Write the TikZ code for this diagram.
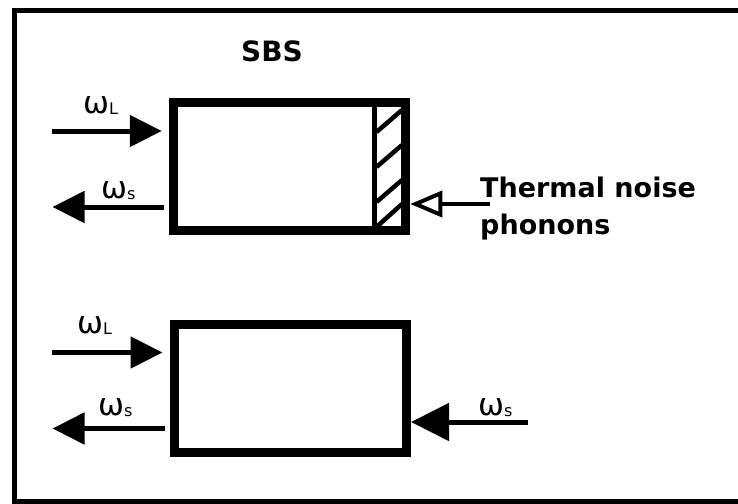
\documentclass[tikz,border=0pt]{standalone}
\usepackage{fontspec}
\setmainfont{DejaVu Sans}
\usetikzlibrary{arrows.meta, calc}
\def\wall{9pt}
\def\shaft{5pt}
\newcommand\freq[1]{{\fontsize{31}{31}\selectfont ω\raisebox{-1pt}{\fontsize{16}{16}\selectfont #1}}}

\begin{document}
\begin{tikzpicture}[x=1pt, y=-1pt,
    cell/.style={draw, line width=\wall, inner sep=0pt, minimum width=232pt, minimum height=127.5pt},
    beam/.style={line width=\shaft, -{Triangle[length=32pt, width=31pt]}},
    wideb/.style={line width=\shaft, -{Triangle[length=38pt, width=37pt]}},
    noise/.style={line width=4pt, -{Triangle[open, fill=white, length=32pt, width=26pt]}},
    lbl/.style={anchor=base west, inner sep=0pt},
    head/.style={lbl, font=\fontsize{27}{28}\selectfont\bfseries}]
    \useasboundingbox (0,0) rectangle (738,503);
    \draw [line width=5pt] (745,11) -| (14,501.5) -- (745,501.5);

    \node [cell] (sbs) at (289.75,166.5) {};
    \node [cell] (anti) at (290.5,388.3) {};
    \node [head, font=\fontsize{28}{28}\selectfont\bfseries] (title) at (241,62) {SBS};

    \draw [line width=\shaft] ([xshift=84.25pt]sbs.north) -- ([xshift=84.25pt]sbs.south);
    \foreach \ya/\yb in {132/110, 167/145, 202/180, 227/204}
        \draw [line width=4.5pt] (376.5,\ya) -- (402,\yb);

    \coordinate (inL1) at (52,131);
    \coordinate (outS1) at (52.5,207);
    \coordinate (therm) at (490,204);
    \coordinate (inL2) at (52,352.5);
    \coordinate (outS2) at (52.5,428.5);
    \coordinate (inS2) at (528,422);

    \draw [beam, shorten >=7.5pt] (inL1) -- (inL1 -| sbs.west);
    \draw [beam, shorten <=5.5pt] (outS1 -| sbs.west) -- (outS1);
    \draw [noise] (therm) -- (therm -| sbs.east);
    \draw [beam, shorten >=7.5pt] (inL2) -- (inL2 -| anti.west);
    \draw [beam, shorten <=5.5pt] (outS2 -| anti.west) -- (outS2);
    \draw [wideb] (inS2) -- (inS2 -| anti.east);

    \node [lbl] (wl1) at (83,113) {\freq{L}};
    \node [lbl] (ws1) at (101,198) {\freq{s}};
    \node [lbl] (wl2) at (77,333) {\freq{L}};
    \node [lbl] (ws2) at (98,415) {\freq{s}};
    \node [lbl] (ws3) at (478,415) {\freq{s}};

    \node [head] (noisetxt) at (480,197) {Thermal noise};
    \node [head] (phon) at ([yshift=-37pt]noisetxt.base west) {phonons};
\end{tikzpicture}
\end{document}
